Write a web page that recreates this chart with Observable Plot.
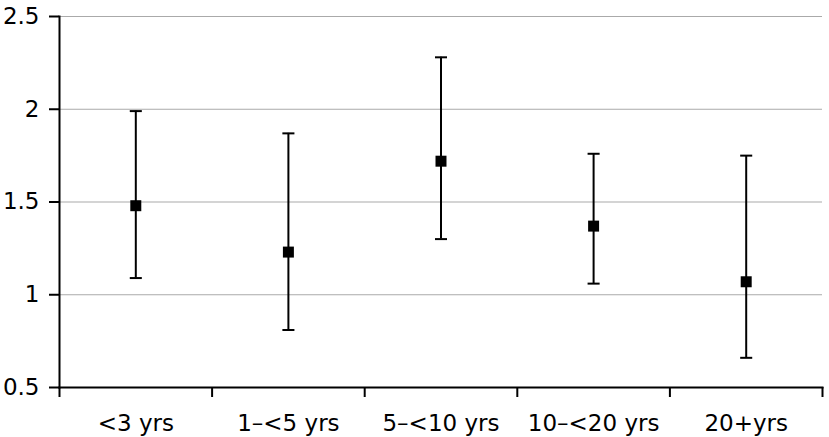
<!DOCTYPE html>
<html>
<head>
<meta charset="utf-8">
<script src="https://cdn.jsdelivr.net/npm/d3@7"></script>
<script src="https://cdn.jsdelivr.net/npm/@observablehq/plot@0.6"></script>
<style>
  html, body { margin: 0; padding: 0; background: #fff; }
  svg { display: block; }
</style>
</head>
<body>
<div id="chart"></div>
<script>
const categories = ["<3 yrs", "1–<5 yrs", "5–<10 yrs", "10–<20 yrs", "20+yrs"];
const estimates = [1.48, 1.23, 1.72, 1.37, 1.07];
const lower = [1.09, 0.81, 1.30, 1.06, 0.66];
const upper = [1.99, 1.87, 2.28, 1.76, 1.75];
const yTicks = [0.5, 1, 1.5, 2, 2.5];
const gridValues = [1, 1.5, 2, 2.5];

const data = categories.map((c, i) => ({
  pos: i + 0.5, cat: c, est: estimates[i], lo: lower[i], hi: upper[i]
}));
const boundaries = d3.range(categories.length + 1);
const centers = categories.map((c, i) => i + 0.5);

const capSymbol = {
  draw(context, size) {
    const w = Math.sqrt(size) / 2;
    context.moveTo(-w, 0);
    context.lineTo(w, 0);
  }
};

const chart = Plot.plot({
  width: 829,
  height: 437,
  marginLeft: 59,
  marginRight: 7,
  marginTop: 16,
  marginBottom: 50,
  style: { fontFamily: "'DejaVu Sans', sans-serif", fontSize: "23px", background: "#fff", color: "#000" },
  x: { type: "linear", domain: [0, categories.length] },
  y: { domain: [0.5, 2.5] },
  marks: [
    Plot.ruleY(gridValues, { stroke: "#aaaaaa", strokeWidth: 1.2 }),
    Plot.axisY({ ticks: yTicks, tickFormat: d => String(d), tickSize: 10, tickPadding: 10, strokeWidth: 2, stroke: "#000", label: null, fontSize: 23 }),
    Plot.axisX({ ticks: boundaries, tickFormat: () => "", tickSize: 10, strokeWidth: 2, stroke: "#000", label: null }),
    Plot.axisX({ ticks: centers, tickFormat: d => categories[Math.round(d - 0.5)], tickSize: 0, tickPadding: 27, label: null, fontSize: 23 }),
    Plot.frame({ anchor: "left", stroke: "#000", strokeWidth: 2 }),
    Plot.frame({ anchor: "bottom", stroke: "#000", strokeWidth: 2 }),
    Plot.ruleX(data, { x: "pos", y1: "lo", y2: "hi", stroke: "#000", strokeWidth: 2 }),
    Plot.dot(data, { x: "pos", y: "lo", symbol: capSymbol, r: 6.8, stroke: "#000", strokeWidth: 2 }),
    Plot.dot(data, { x: "pos", y: "hi", symbol: capSymbol, r: 6.8, stroke: "#000", strokeWidth: 2 }),
    Plot.dot(data, { x: "pos", y: "est", symbol: "square", r: 6.2, fill: "#000", stroke: "none" })
  ]
});
document.getElementById("chart").appendChild(chart);
</script>
</body>
</html>
